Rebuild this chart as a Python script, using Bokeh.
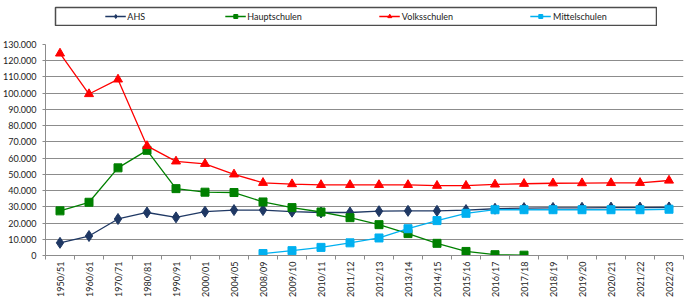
import math
from bokeh.plotting import figure
from bokeh.models import (Range1d, FixedTicker, CustomJSTickFormatter, Legend, LegendItem,
                          ColumnDataSource)
from bokeh.layouts import column
from bokeh.embed import file_html
from bokeh.resources import INLINE

nan = float("nan")

categories = ["1950/51", "1960/61", "1970/71", "1980/81", "1990/91", "2000/01", "2004/05",
              "2008/09", "2009/10", "2010/11", "2011/12", "2012/13", "2013/14", "2014/15",
              "2015/16", "2016/17", "2017/18", "2018/19", "2019/20", "2020/21", "2021/22",
              "2022/23"]

ahs = [7800, 12000, 22500, 26500, 23500, 27000, 28000, 28000, 27000, 26500, 26500, 27300,
       27500, 27500, 28000, 28800, 29200, 29300, 29400, 29500, 29500, 29600]
hauptschulen = [27500, 32800, 54000, 64800, 41200, 39000, 38800, 33000, 29500, 26800, 23300,
                19000, 13500, 7500, 2500, 500, 200, nan, nan, nan, nan, nan]
volksschulen = [124500, 99500, 108500, 67500, 58000, 56500, 50000, 44800, 44000, 43500, 43500,
                43500, 43500, 43000, 43000, 43800, 44200, 44500, 44600, 44700, 44800, 46200]
mittelschulen = [nan, nan, nan, nan, nan, nan, nan, 1200, 3000, 5000, 7800, 10800, 16500,
                 21500, 26000, 28200, 28200, 28200, 28200, 28200, 28200, 28500]

y_ticks = list(range(0, 130001, 10000))

series = [
    ("AHS", ahs, "#1F3864", "diamond", 11),
    ("Hauptschulen", hauptschulen, "#008000", "square", 8),
    ("Volksschulen", volksschulen, "#FF0000", "triangle", 9),
    ("Mittelschulen", mittelschulen, "#00B0F0", "square", 8),
]

FONT = "Lato"
n = len(categories)
xs = [i + 0.5 for i in range(n)]

p = figure(width=684, height=273, output_backend="svg", toolbar_location=None,
           x_range=Range1d(0, n), y_range=Range1d(0, 130000),
           min_border_left=41, min_border_right=0, min_border_top=18, min_border_bottom=38)
p.outline_line_color = None
p.xgrid.grid_line_color = None
p.ygrid.grid_line_color = "#8C8C8C"
p.ygrid.grid_line_width = 1
p.ygrid.ticker = FixedTicker(ticks=y_ticks)

p.yaxis.ticker = FixedTicker(ticks=y_ticks)
p.yaxis.formatter = CustomJSTickFormatter(
    code="return Math.round(tick).toString().replace(/\\B(?=(\\d{3})+(?!\\d))/g, '.');")
p.yaxis.axis_line_color = "#8C8C8C"
p.yaxis.major_tick_line_color = "#8C8C8C"
p.yaxis.major_tick_out = 3
p.yaxis.major_tick_in = 0
p.yaxis.minor_tick_line_color = None
p.yaxis.major_label_standoff = 6
p.yaxis.major_label_text_font = FONT
p.yaxis.major_label_text_font_size = "9px"
p.yaxis.major_label_text_color = "#222222"

p.xaxis.ticker = FixedTicker(ticks=xs, minor_ticks=list(range(n + 1)))
p.xaxis.formatter = CustomJSTickFormatter(args=dict(labels=categories),
                                          code="return labels[Math.floor(tick)];")
p.xaxis.major_label_orientation = math.pi / 2
p.xaxis.axis_line_color = "#8C8C8C"
p.xaxis.major_tick_line_color = None
p.xaxis.major_tick_out = 0
p.xaxis.major_tick_in = 0
p.xaxis.minor_tick_line_color = "#8C8C8C"
p.xaxis.minor_tick_out = 4
p.xaxis.minor_tick_in = 0
p.xaxis.major_label_standoff = 2
p.xaxis.major_label_text_font = FONT
p.xaxis.major_label_text_font_size = "9px"
p.xaxis.major_label_text_color = "#222222"

sources = []
for name, vals, color, marker, size in series:
    src = ColumnDataSource(dict(x=xs, y=vals))
    sources.append(src)
    p.line("x", "y", source=src, line_color=color, line_width=1.3)
    p.scatter("x", "y", source=src, marker=marker, size=size, fill_color=color,
              line_color=color)

# legend box (separate strip; the series renderers here fall outside its view)
lg = figure(width=647, height=20, output_backend="svg", toolbar_location=None,
            x_range=Range1d(-3, -2), y_range=Range1d(0, 1), margin=(6, 0, 0, 10),
            min_border=1, x_axis_location=None, y_axis_location=None)
lg.grid.grid_line_color = None
lg.outline_line_color = "#4D4D4D"
lg.outline_line_width = 1.5
items = []
for (name, vals, color, marker, size), src in zip(series, sources):
    r1 = lg.line("x", "y", source=src, line_color=color, line_width=1.3)
    r2 = lg.scatter("x", "y", source=src, marker=marker, size=size, fill_color=color,
                    line_color=color)
    items.append(LegendItem(label=name, renderers=[r1, r2]))
legend = Legend(items=items, orientation="horizontal", location="center",
                spacing=77, padding=0, margin=0, glyph_width=21, glyph_height=10,
                label_standoff=2, label_height=12, label_text_font=FONT,
                label_text_font_size="9px", label_text_color="#222222",
                border_line_alpha=0, background_fill_alpha=0)
lg.add_layout(legend, "center")

layout = column(lg, p, spacing=0)
open("out.html", "w").write(file_html(layout, INLINE))
